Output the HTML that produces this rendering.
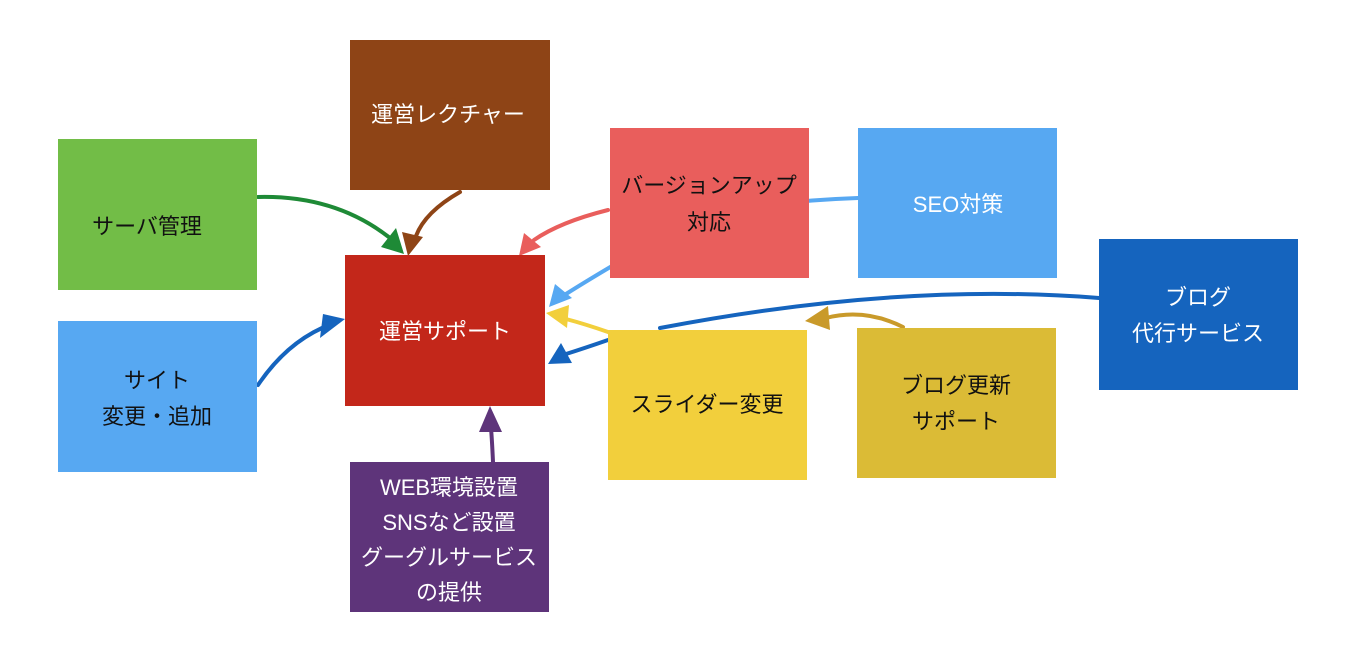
<!DOCTYPE html>
<html><head><meta charset="utf-8"><style>
html,body{margin:0;padding:0;background:#fff;width:1371px;height:659px;overflow:hidden}
svg text{font-family:"Liberation Sans","Noto Sans CJK JP",sans-serif;font-size:22px;text-anchor:middle}
</style></head><body>
<svg width="1371" height="659" viewBox="0 0 1371 659" xmlns="http://www.w3.org/2000/svg">
<g fill="none" stroke-width="4" stroke-linecap="round">
<path d="M258 197 Q340 195 396 243" stroke="#1e8a36"/>
<path d="M460 192 Q425 212 416 236" stroke="#8e4416"/>
<path d="M608 210 Q560 222 534 240" stroke="#e95e5c"/>
<path d="M858 198 Q800 200 740 208" stroke="#57a8f2"/>
<path d="M612 266 Q585 282 566 294" stroke="#57a8f2"/>
<path d="M608 332 Q585 324 566 319" stroke="#f2cf3c"/>
<path d="M1099 298 Q900 282 660 328" stroke="#1564be"/>
<path d="M608 340 Q585 348 566 354" stroke="#1564be"/>
<path d="M258 385 Q285 345 322 328" stroke="#1564be"/>
<path d="M493 462 Q492 440 491 428" stroke="#5e347a"/>
<path d="M903 327 Q865 308 826 318" stroke="#c99a2a"/>
</g>
<g>
<polygon points="404,254 381,247 396,228" fill="#1e8a36"/>
<polygon points="408,256 402,232 423,237" fill="#8e4416"/>
<polygon points="519,256 524,233 541,247" fill="#e95e5c"/>
<polygon points="549,307 555,284 572,298" fill="#57a8f2"/>
<polygon points="546,313 569,305 567,328" fill="#f2cf3c"/>
<polygon points="548,364 561,343 572,363" fill="#1564be"/>
<polygon points="345,319 320,338 323,314" fill="#1564be"/>
<polygon points="490,406 479,432 502,432" fill="#5e347a"/>
<polygon points="805,321 828,306 830,330" fill="#c99a2a"/>
</g>
<rect x="350" y="40" width="200" height="150" fill="#8e4416"/>
<rect x="58" y="139" width="199" height="151" fill="#72bd47"/>
<rect x="58" y="321" width="199" height="151" fill="#57a8f2"/>
<rect x="345" y="255" width="200" height="151" fill="#c3271a"/>
<rect x="350" y="462" width="199" height="150" fill="#5e347a"/>
<rect x="610" y="128" width="199" height="150" fill="#e95e5c"/>
<rect x="858" y="128" width="199" height="150" fill="#57a8f2"/>
<rect x="1099" y="239" width="199" height="151" fill="#1564be"/>
<rect x="608" y="330" width="199" height="150" fill="#f2cf3c"/>
<rect x="857" y="328" width="199" height="150" fill="#dbbb36"/>
<text x="448" y="122" fill="#fff">運営レクチャー</text>
<text x="147" y="234" fill="#111">サーバ管理</text>
<text x="157" y="388" fill="#111">サイト</text>
<text x="157" y="424" fill="#111">変更・追加</text>
<text x="445" y="339" fill="#fff">運営サポート</text>
<text x="449" y="495" fill="#fff">WEB環境設置</text>
<text x="449" y="530" fill="#fff">SNSなど設置</text>
<text x="449" y="565" fill="#fff">グーグルサービス</text>
<text x="449" y="600" fill="#fff">の提供</text>
<text x="709" y="193" fill="#111">バージョンアップ</text>
<text x="709" y="230" fill="#111">対応</text>
<text x="958" y="212" fill="#fff">SEO対策</text>
<text x="1198" y="305" fill="#fff">ブログ</text>
<text x="1198" y="341" fill="#fff">代行サービス</text>
<text x="707" y="412" fill="#111">スライダー変更</text>
<text x="956" y="393" fill="#111">ブログ更新</text>
<text x="956" y="429" fill="#111">サポート</text>
</svg>
</body></html>
